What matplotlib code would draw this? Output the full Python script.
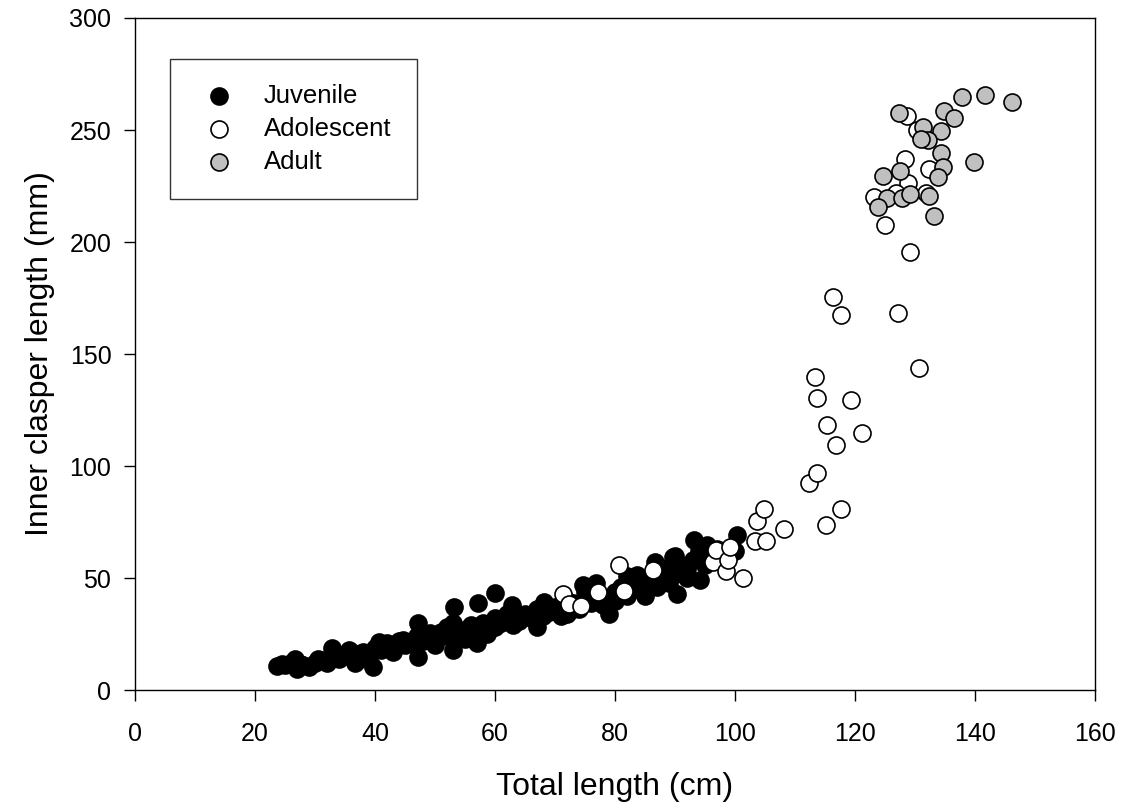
import matplotlib
matplotlib.use('Agg')
import matplotlib.pyplot as plt

plt.rcParams['font.family'] = ['Liberation Sans', 'DejaVu Sans']

# Juvenile: total length (cm), inner clasper length (mm)
juv_x = [23.6, 24.5, 25, 26, 26.7, 27, 27.5, 28, 29, 30, 30.5, 31, 32, 32.8, 33, 34, 35, 35.6, 36, 36.7,
         37, 37.5, 38, 39, 39.7, 40, 40.6, 41, 41, 42, 43, 43, 44, 44.7, 45, 46, 47.2, 47.2, 47, 48,
         49.2, 50, 50, 51, 52, 52, 53.1, 53, 53, 54, 55, 55, 56, 57.2, 57, 57, 58, 58.6, 59, 60,
         60, 60, 61, 62.8, 62, 63, 64, 65, 66, 67, 67, 68.1, 68, 69, 70, 71, 72, 72, 73, 73,
         74, 74.7, 75, 75, 76, 76.9, 77, 78, 78, 79, 80, 80, 81, 82, 82, 83, 83.6, 84, 85, 85,
         86.7, 86, 87, 87, 88, 89, 89.7, 89, 90, 90.3, 90, 91, 92, 92, 93.1, 93, 94, 94.2, 95.3, 95,
         96, 97, 100, 100.3]
juv_y = [10.8, 11.5, 11, 12, 13.7, 9.5, 11.5, 11, 10.5, 12, 14.1, 13.5, 12, 18.6, 15, 14, 15.5, 17.9, 17, 11.9,
         16, 14, 17, 15, 10.4, 19, 21.6, 20, 18, 21, 19, 17, 22, 22.3, 20, 21, 29.8, 14.9, 24, 22,
         25.3, 23, 20, 26, 24, 28, 36.9, 18, 30, 25, 27, 23, 29, 38.7, 21, 26, 30, 25, 27, 43.2,
         32, 28, 30, 37.9, 34, 29, 31, 34, 32, 28, 36, 39.4, 33, 35, 37, 33, 34, 40, 38.7, 36,
         36, 46.9, 41, 44, 39, 47.6, 43, 41, 38, 34, 44, 40, 46, 51, 42, 45, 51.3, 48, 42, 47,
         57.3, 50, 46, 53, 51, 55, 59.5, 48, 60, 43.1, 52, 56, 54, 50, 67, 58, 62, 49.1, 64.7, 56,
         60, 63, 62, 69.2]

# Adolescent
ado_x = [71.4, 72.3, 74.3, 77.1, 80.6, 81.5, 86.4, 96.4, 96.8, 98.5, 98.8, 99.1, 101.3, 103.3,
         105.2, 103.7, 104.9, 108.1, 112.3, 113.7, 115.1, 117.6, 116.8, 115.4, 121.2, 113.7, 119.3,
         113.3, 130.6, 116.3, 117.6, 127.1, 129.2, 125.0, 123.2, 131.9, 128.9, 132.3, 128.4, 128.6,
         130.3, 126.9]
ado_y = [42.9, 38.4, 37.5, 43.6, 55.8, 44.3, 53.6, 57.3, 62.5, 53.3, 58.3, 63.7, 49.9, 66.5,
         66.5, 75.6, 80.7, 71.7, 92.5, 96.7, 73.5, 80.7, 109.4, 118.4, 114.6, 130.5, 129.5,
         139.6, 143.6, 175.6, 167.4, 168.4, 195.5, 207.6, 219.9, 221.7, 226.2, 232.4, 236.9, 256.4,
         250, 222]

# Adult
adu_x = [127.3, 134.8, 136.5, 137.8, 141.6, 146.2, 131.3, 134.3, 132.2, 131.0, 134.4, 134.6, 133.9,
         139.9, 127.5, 124.7, 125.4, 127.8, 129.1, 132.3, 123.8, 133.2]
adu_y = [257.7, 258.6, 255.2, 264.6, 265.5, 262.5, 251.2, 249.4, 245.5, 246, 239.6, 233.3, 229.2,
         235.7, 231.7, 229.5, 219.5, 219.5, 221.4, 220.5, 215.5, 211.6]

fig = plt.figure(figsize=(11.25, 8.1), dpi=100)
ax = fig.add_axes([0.12, 0.148, 0.8533, 0.8298])

ms = 150
ax.scatter(juv_x, juv_y, s=ms, c='black', edgecolors='black', linewidths=1.2, label='Juvenile', zorder=3)
ax.scatter(ado_x, ado_y, s=ms, c='white', edgecolors='black', linewidths=1.2, label='Adolescent', zorder=4)
ax.scatter(adu_x, adu_y, s=ms, c='#c0c0c0', edgecolors='black', linewidths=1.2, label='Adult', zorder=5)

ax.set_xlim(0, 160)
ax.set_ylim(0, 300)
ax.set_xticks(range(0, 161, 20))
ax.set_yticks(range(0, 301, 50))
ax.tick_params(direction='out', length=8, width=1, labelsize=18)
ax.tick_params(axis='x', pad=15)
ax.tick_params(axis='y', pad=9)
for sp in ax.spines.values():
    sp.set_linewidth(1)
ax.set_xlabel('Total length (cm)', fontsize=23, labelpad=19)
ax.set_ylabel('Inner clasper length (mm)', fontsize=23, labelpad=10)

leg = ax.legend(loc='upper left', bbox_to_anchor=(0.036, 0.939), borderaxespad=0,
                fancybox=False, edgecolor='black', fontsize=18.5, markerscale=1.0,
                handletextpad=0.81, borderpad=0.98, labelspacing=0.34, handlelength=1.88)
leg.get_frame().set_linewidth(1)

fig.savefig('out.png', dpi=100)
